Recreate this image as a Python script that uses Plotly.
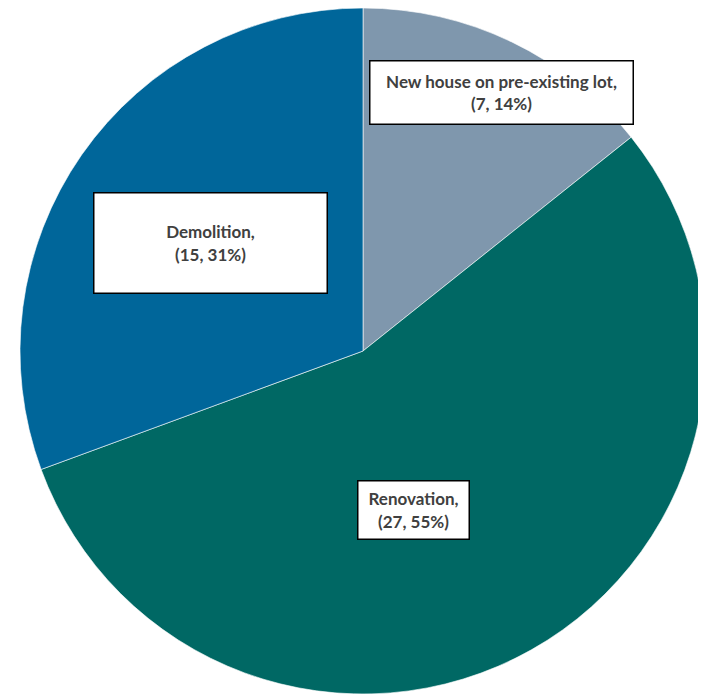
import plotly.graph_objects as go

categories = ["New house on pre-existing lot", "Renovation", "Demolition"]
counts = [7, 27, 15]
percents = [14, 55, 31]
colors = ["#7F97AD", "#006864", "#00669A"]

W, H = 698, 686
OFF = 8  # default page body margin
ML, MT = 12, 0
PW, PH = 686, 686

fig = go.Figure(go.Pie(
    labels=categories, values=counts, sort=False, direction="clockwise",
    rotation=0, textinfo="none", hoverinfo="label+value+percent",
    marker=dict(colors=colors, line=dict(color="white", width=0.6)),
    showlegend=False,
))

# label boxes: (center px x, center px y, width, height) in screen pixels
boxes = [(501, 93, 262, 62), (413, 510, 110, 57), (210, 243, 232, 99)]
for cat, n, p, (cx, cy, bw, bh) in zip(categories, counts, percents, boxes):
    fig.add_annotation(
        x=(cx - OFF - ML) / PW, y=1 - (cy - OFF - MT) / PH,
        xref="paper", yref="paper", xanchor="center", yanchor="middle",
        text=f"<b>{cat},<br>({n}, {p}%)</b>", showarrow=False,
        font=dict(family="Lato", size=17, color="#404040"),
        bgcolor="white", bordercolor="black", borderwidth=1.5, borderpad=0,
        width=bw, height=bh, align="center", valign="middle",
    )

fig.update_layout(
    width=W, height=H, margin=dict(l=ML, r=W - ML - PW, t=MT, b=H - MT - PH),
    paper_bgcolor="white", plot_bgcolor="white",
)
fig.write_html("out.html")
